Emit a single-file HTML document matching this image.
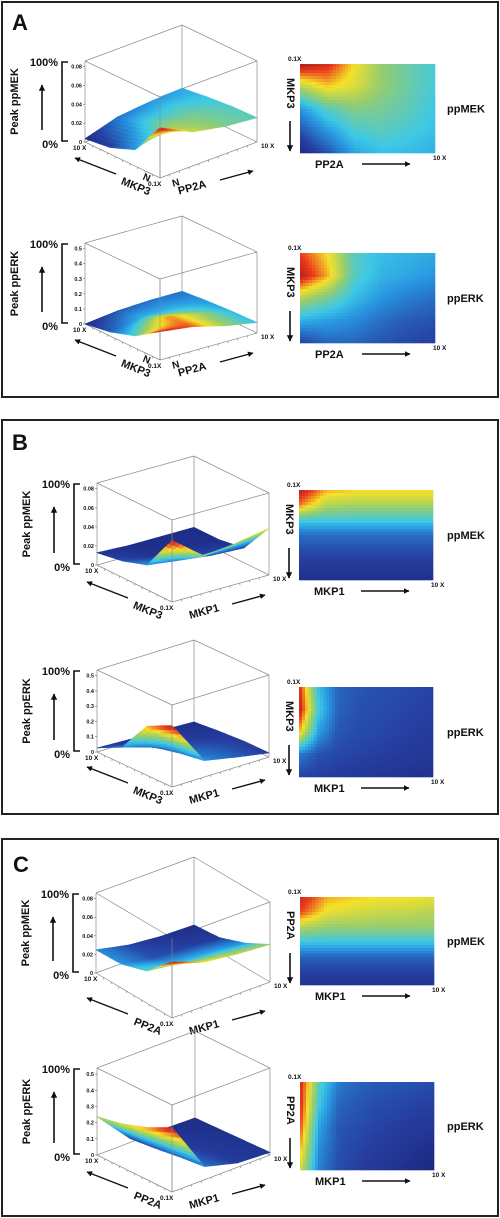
<!DOCTYPE html>
<html><head><meta charset="utf-8">
<style>
html,body{margin:0;padding:0;background:#fff;}
svg{display:block;font-family:"Liberation Sans",Arial,sans-serif;}
text{font-weight:bold;fill:#111;}
</style></head>
<body>
<svg id="fig" width="500" height="1218" viewBox="0 0 500 1218" xmlns="http://www.w3.org/2000/svg">
<defs>
<marker id="ah" viewBox="0 0 10 10" refX="9" refY="5" markerWidth="4" markerHeight="4" orient="auto"><path d="M0,0 L10,5 L0,10 z" fill="#111"/></marker>
</defs>
<rect x="2" y="2" width="496" height="395" fill="none" stroke="#222" stroke-width="2"/>
<rect x="2" y="420" width="496" height="394" fill="none" stroke="#222" stroke-width="2"/>
<rect x="2" y="839" width="496" height="377" fill="none" stroke="#222" stroke-width="2"/>
<text x="12" y="30" font-size="22">A</text>
<text x="12" y="450" font-size="22">B</text>
<text x="13" y="872" font-size="22">C</text>
<g id="content"></g>
</svg>
<script>
// ---- data: tick labels ----
const mekTicks = ["0","0.02","0.04","0.06","0.08"];
const erkTicks = ["0","0.1","0.2","0.3","0.4","0.5"];
// ---- data: surface heights (fraction of axis height); rows = left axis 0.1X..10X, cols = right axis 0.1X..10X ----
const surfA1 = [[0.62,0.42,0.34,0.3],[0.2,0.36,0.33,0.29],[0.08,0.26,0.28,0.26],[0.04,0.16,0.2,0.22]];
const surfA2 = [[0.35,0.3,0.2,0.13],[0.15,0.28,0.2,0.12],[0.05,0.12,0.12,0.1],[0.0,0.05,0.07,0.07]];
const surfB1 = [[0.75,0.45,0.5,0.57],[0.3,0.25,0.2,0.18],[0.2,0.15,0.14,0.13],[0.15,0.13,0.13,0.13]];
const surfB2 = [[0.75,0.2,0.12,0.05],[0.6,0.15,0.1,0.05],[0.2,0.08,0.05,0.03],[0.05,0.03,0.02,0.0]];
const surfC1 = [[0.7,0.55,0.5,0.47],[0.4,0.35,0.33,0.3],[0.3,0.22,0.2,0.18],[0.29,0.2,0.16,0.15]];
const surfC2 = [[0.74,0.15,0.05,0.03],[0.6,0.12,0.04,0.02],[0.5,0.08,0.03,0.01],[0.44,0.05,0.01,0.0]];
// ---- data: heatmap values (0..1), rows top->bottom, cols left->right ----
const hmA1 = [[0.97,0.9,0.7,0.55,0.48,0.42],[0.6,0.72,0.66,0.55,0.48,0.42],[0.3,0.45,0.52,0.5,0.46,0.4],[0.15,0.3,0.42,0.45,0.42,0.38],[0.03,0.15,0.32,0.38,0.37,0.35]];
const hmA2 = [[0.85,0.7,0.45,0.38,0.36,0.34],[0.95,0.75,0.45,0.36,0.33,0.3],[0.6,0.5,0.38,0.3,0.25,0.22],[0.35,0.32,0.28,0.22,0.18,0.16],[0.12,0.2,0.2,0.16,0.14,0.12]];
const hmB1 = [[0.95,0.75,0.72,0.72,0.72,0.72],[0.8,0.6,0.58,0.58,0.58,0.58],[0.42,0.42,0.42,0.42,0.42,0.42],[0.22,0.22,0.22,0.22,0.22,0.22],[0.15,0.15,0.15,0.15,0.15,0.15],[0.1,0.1,0.1,0.1,0.1,0.1],[0.06,0.06,0.06,0.06,0.06,0.06]];
const hmB2 = [[0.9,0.38,0.2,0.17,0.16,0.15,0.14,0.13],[0.95,0.42,0.2,0.16,0.15,0.14,0.13,0.12],[0.75,0.32,0.17,0.15,0.14,0.13,0.12,0.11],[0.25,0.16,0.14,0.13,0.12,0.11,0.1,0.09],[0.12,0.12,0.11,0.1,0.09,0.08,0.07,0.07]];
const hmC1 = [[0.92,0.75,0.72,0.7,0.7,0.68],[0.85,0.68,0.65,0.63,0.62,0.6],[0.6,0.55,0.55,0.55,0.55,0.55],[0.4,0.4,0.4,0.4,0.4,0.4],[0.2,0.2,0.2,0.2,0.2,0.2],[0.12,0.12,0.12,0.12,0.12,0.12],[0.07,0.07,0.07,0.07,0.07,0.07]];
const hmC2 = [[0.92,0.45,0.25,0.2,0.18,0.17,0.16,0.15],[0.9,0.4,0.2,0.17,0.15,0.14,0.13,0.12],[0.85,0.32,0.17,0.15,0.13,0.12,0.1,0.09],[0.75,0.28,0.16,0.13,0.11,0.09,0.07,0.05],[0.65,0.25,0.15,0.12,0.09,0.07,0.04,0.02]];

const NS = "http://www.w3.org/2000/svg";
const root = document.getElementById("content");
function mk(tag, attrs, parent){ const e=document.createElementNS(NS,tag); for(const k in attrs) e.setAttribute(k,attrs[k]); (parent||root).appendChild(e); return e; }
const cmStops=[[0,25,35,120],[0.12,38,62,160],[0.3,40,150,225],[0.4,60,200,230],[0.55,150,205,110],[0.7,245,225,40],[0.85,235,60,30],[1,150,20,20]];
function jet(v){
  v=Math.max(0,Math.min(1,v));
  for(let i=0;i<cmStops.length-1;i++){
    const a=cmStops[i], b=cmStops[i+1];
    if(v<=b[0]){ const t=(v-a[0])/(b[0]-a[0]);
      return "rgb("+[1,2,3].map(k=>Math.round(a[k]+(b[k]-a[k])*t)).join(",")+")"; }
  }
  return "rgb(150,20,20)";
}
function bil(g, x, y){
  const nr=g.length, nc=g[0].length;
  const r=y*(nr-1), c=x*(nc-1);
  const r0=Math.min(nr-2,Math.floor(r)), c0=Math.min(nc-2,Math.floor(c));
  const fr=r-r0, fc=c-c0;
  return g[r0][c0]*(1-fr)*(1-fc)+g[r0][c0+1]*(1-fr)*fc+g[r0+1][c0]*fr*(1-fc)+g[r0+1][c0+1]*fr*fc;
}
function txt(s, x, y, size, parent, extra){ const t=mk("text",Object.assign({x:x,y:y,"font-size":size},extra||{}),parent); t.textContent=s; return t; }

function drawRow(cfg){
  const g = mk("g",{});
  
  
  const F=cfg.F, L=cfg.L, R=cfg.R, h=cfg.h;
  const B=[L[0]+R[0]-F[0], L[1]+R[1]-F[1]];
  const P=(u,v,z)=>[F[0]+u*(L[0]-F[0])+v*(R[0]-F[0]), F[1]+h+u*(L[1]-F[1])+v*(R[1]-F[1])-z*h];
  const cube = mk("g",{stroke:"#8a8a8a","stroke-width":0.7,fill:"none"},g);
  
  
  const tops=[F,L,B,R], bots=tops.map(p=>[p[0],p[1]+h]);
  for(let i=0;i<4;i++){
    const a=tops[i], b=tops[(i+1)%4], c=bots[i], d=bots[(i+1)%4];
    mk("line",{x1:a[0],y1:a[1],x2:b[0],y2:b[1]},cube);
    mk("line",{x1:c[0],y1:c[1],x2:d[0],y2:d[1]},cube);
    mk("line",{x1:a[0],y1:a[1],x2:c[0],y2:c[1]},cube);
  }
  for(let i=1;i<10;i++){
    const p=P(i/10,0,0), q=P(0,i/10,0);
    mk("line",{x1:p[0],y1:p[1],x2:p[0],y2:p[1]+2},cube);
    mk("line",{x1:q[0],y1:q[1],x2:q[0],y2:q[1]+2},cube);
  }
  const S=cfg.surf, N=24;
  let zmin=Infinity,zmax=-Infinity; S.forEach(r=>r.forEach(z=>{zmin=Math.min(zmin,z);zmax=Math.max(zmax,z);}));
  const quads=[];
  for(let i=0;i<N;i++)for(let j=0;j<N;j++){
    const u0=i/N,u1=(i+1)/N,v0=j/N,v1=(j+1)/N;
    const z=(a,b)=>bil(S,b,a);
    const c=(z(u0,v0)+z(u1,v0)+z(u0,v1)+z(u1,v1))/4;
    quads.push({d:u0+v0,pts:[P(u0,v0,z(u0,v0)),P(u1,v0,z(u1,v0)),P(u1,v1,z(u1,v1)),P(u0,v1,z(u0,v1))],c:(c-zmin)/(zmax-zmin||1)});
  }
  quads.sort((a,b)=>b.d-a.d);
  const sg=mk("g",{},g);
  
  
  quads.forEach(q=>{ const col=jet(0.05+0.9*q.c);
    mk("polygon",{points:q.pts.map(p=>p[0].toFixed(1)+","+p[1].toFixed(1)).join(" "),fill:col,stroke:col,"stroke-width":0.6},sg); });
  mk("line",{x1:F[0],y1:F[1],x2:F[0],y2:F[1]+h,stroke:"#8a8a8a","stroke-width":0.6},g);
  const tk=cfg.ticks, top=0.93;
  tk.forEach((s,i)=>{ const y=L[1]+h-(i/(tk.length-1))*top*h;
    const t=txt(s,L[0]-3,y+2,5.5,g,{"text-anchor":"end"});
     
    mk("line",{x1:L[0]-2,y1:y,x2:L[0],y2:y,stroke:"#555","stroke-width":0.5},g); });
  const bx=L[0]-23;
  mk("path",{d:`M${bx+6},${L[1]+1} H${bx} V${L[1]+h-1} H${bx+6}`,fill:"none",stroke:"#111","stroke-width":1.6},g);
  const p100=txt("100%",bx-4,L[1]+5,11,g,{"text-anchor":"end"});  
  const p0=txt("0%",bx-4,L[1]+h+6,11,g,{"text-anchor":"end"});  
  const ax=L[0]-43;
  mk("line",{x1:ax,y1:L[1]+h-12,x2:ax,y2:L[1]+24,stroke:"#111","stroke-width":1.6,"marker-end":"url(#ah)"},g);
  const yl=txt(cfg.ylab,0,0,11,g,{"text-anchor":"middle",transform:`translate(${L[0]-67},${L[1]+h/2}) rotate(-90)`});
   
  const Fb=[F[0],F[1]+h], Lb=[L[0],L[1]+h], Rb=[R[0],R[1]+h];
  txt("10 X",Lb[0]-12,Lb[1]+8,6.5,g);
  txt("0.1X",Fb[0]-12,Fb[1]+8,6.5,g);
  txt("10 X",Rb[0]+4,Rb[1]+6,6.5,g);
  if(cfg.N){ txt("N",Fb[0]-17,Fb[1]+3,10,g,{transform:`rotate(22 ${Fb[0]-13} ${Fb[1]})`}); txt("N",Fb[0]+12,Fb[1]+8,10,g,{transform:`rotate(-15 ${Fb[0]+16} ${Fb[1]+4})`}); }
  mk("line",{x1:Fb[0]-44,y1:Fb[1]-4,x2:Fb[0]-85,y2:Fb[1]-20,stroke:"#111","stroke-width":1.4,"marker-end":"url(#ah)"},g);
  mk("line",{x1:Fb[0]+60,y1:Fb[1]+2,x2:Fb[0]+93,y2:Fb[1]-7,stroke:"#111","stroke-width":1.4,"marker-end":"url(#ah)"},g);
  const la=txt(cfg.leftAx,Fb[0]-24,Fb[1]+12,11,g,{"text-anchor":"middle",transform:`rotate(22 ${Fb[0]-24} ${Fb[1]+8})`});
   
  const ra=txt(cfg.rightAx,Fb[0]+32,Fb[1]+13,11,g,{"text-anchor":"middle",transform:`rotate(-15 ${Fb[0]+32} ${Fb[1]+9})`});
   
  const [hx,hy,hw,hh]=cfg.box, H=cfg.hm, cs=3;
  const hg=mk("g",{},g);
  
  
  const nx=Math.ceil(hw/cs), ny=Math.ceil(hh/cs);
  for(let i=0;i<ny;i++)for(let j=0;j<nx;j++){
    const v=bil(H,(j+0.5)/nx,(i+0.5)/ny);
    const w=Math.min(cs,hw-j*cs), hh2=Math.min(cs,hh-i*cs);
    mk("rect",{x:hx+j*cs,y:hy+i*cs,width:w+0.3,height:hh2+0.3,fill:jet(v)},hg);
  }
  txt("0.1X",hx-12,hy-3,6.5,g);
  txt("10 X",hx+hw-2,hy+hh+7,6.5,g);
  const vl=txt(cfg.hmV,0,0,11,g,{"text-anchor":"start",transform:`translate(${hx-13},${hy+14}) rotate(90)`});
   
  mk("line",{x1:hx-10,y1:hy+hh-32,x2:hx-10,y2:hy+hh-2,stroke:"#111","stroke-width":1.6,"marker-end":"url(#ah)"},g);
  const hl=txt(cfg.hmH,hx+15,hy+hh+15,11,g);
   
  mk("line",{x1:hx+62,y1:hy+hh+11,x2:hx+110,y2:hy+hh+11,stroke:"#111","stroke-width":1.4,"marker-end":"url(#ah)"},g);
  const rl=txt(cfg.hmR,447,hy+hh/2+4,11,g);
   
}

const rows=[
 {name:"a-ppmek-row",F:[160,97],L:[85,61],R:[257,61],h:81,ylab:"Peak ppMEK",ticks:mekTicks,leftAx:"MKP3",rightAx:"PP2A",N:true,surf:surfA1,hm:hmA1,box:[300,64,135,89],hmV:"MKP3",hmH:"PP2A",hmR:"ppMEK"},
 {name:"a-pperk-row",F:[160,279],L:[85,243],R:[257,252],h:81,ylab:"Peak ppERK",ticks:erkTicks,leftAx:"MKP3",rightAx:"PP2A",N:true,surf:surfA2,hm:hmA2,box:[300,253,135,90],hmV:"MKP3",hmH:"PP2A",hmR:"ppERK"},
 {name:"b-ppmek-row",F:[172,520],L:[97,483],R:[269,493],h:82,ylab:"Peak ppMEK",ticks:mekTicks,leftAx:"MKP3",rightAx:"MKP1",N:false,surf:surfB1,hm:hmB1,box:[299,490,134,90],hmV:"MKP3",hmH:"MKP1",hmR:"ppMEK"},
 {name:"b-pperk-row",F:[172,705],L:[97,670],R:[269,675],h:82,ylab:"Peak ppERK",ticks:erkTicks,leftAx:"MKP3",rightAx:"MKP1",N:false,surf:surfB2,hm:hmB2,box:[299,687,134,90],hmV:"MKP3",hmH:"MKP1",hmR:"ppERK"},
 {name:"c-ppmek-row",F:[172,938],L:[96,893],R:[270,902],h:80,ylab:"Peak ppMEK",ticks:mekTicks,leftAx:"PP2A",rightAx:"MKP1",N:false,surf:surfC1,hm:hmC1,box:[300,897,134,88],hmV:"PP2A",hmH:"MKP1",hmR:"ppMEK"},
 {name:"c-pperk-row",F:[172,1105],L:[97,1068],R:[270,1068],h:87,ylab:"Peak ppERK",ticks:erkTicks,leftAx:"PP2A",rightAx:"MKP1",N:false,surf:surfC2,hm:hmC2,box:[300,1082,134,88],hmV:"PP2A",hmH:"MKP1",hmR:"ppERK"}
];
rows.forEach(drawRow);
</script>
</body></html>
